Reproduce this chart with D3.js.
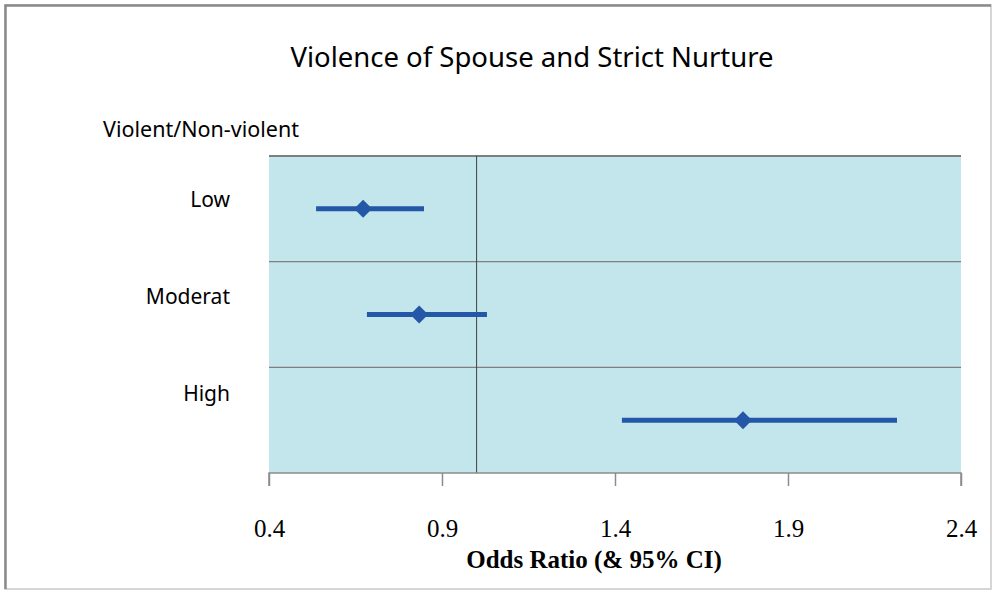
<!DOCTYPE html>
<html>
<head>
<meta charset="utf-8">
<script src="https://cdn.jsdelivr.net/npm/d3@7"></script>
<style>
  body { margin: 0; background: #fff; }
</style>
</head>
<body>
<div id="wrapper"></div>
<script>
// data
const categories = ["Low", "Moderat", "High"];
const oddsRatio = [0.672, 0.834, 1.770];
const ciLower = [0.536, 0.683, 1.420];
const ciUpper = [0.848, 1.030, 2.215];
const xTicks = [0.4, 0.9, 1.4, 1.9, 2.4];
const refValue = 1.0;

const width = 993;
const height = 592;
const plot = { left: 269, right: 961, top: 156, bottom: 473 };

const svg = d3.select("#wrapper")
    .append("svg")
    .attr("width", width)
    .attr("height", height);

// outer frame: darker on top/left, lighter on right/bottom
svg.append("rect")
    .attr("x", 5).attr("y", 5)
    .attr("width", 986).attr("height", 584)
    .attr("fill", "#fff")
    .attr("stroke", "#c8c8c8")
    .attr("stroke-width", 1.5);
svg.append("path")
    .attr("d", "M5.5,589V5.5H991")
    .attr("fill", "none")
    .attr("stroke", "#8a8a8a")
    .attr("stroke-width", 2.5);

const xScale = d3.scaleLinear()
    .domain([0.4, 2.4])
    .range([plot.left, plot.right]);

const yBand = d3.scaleBand()
    .domain(categories)
    .range([plot.top, plot.bottom]);

// labels sit a bit above the band centres in the original
const yLabel = d3.scalePoint()
    .domain(categories)
    .range([200, 394]);

// plot background
svg.append("rect")
    .attr("x", plot.left).attr("y", plot.top)
    .attr("width", plot.right - plot.left)
    .attr("height", plot.bottom - plot.top)
    .attr("fill", "#c3e5ec");

// band separators
svg.selectAll(".sep")
    .data(categories)
    .enter()
    .append("line")
    .attr("x1", plot.left).attr("x2", plot.right)
    .attr("y1", d => yBand(d)).attr("y2", d => yBand(d))
    .attr("stroke", "#7f7f7f")
    .attr("stroke-width", d => d === categories[0] ? 2 : 1.2);

// reference line at OR = 1
svg.append("line")
    .attr("x1", xScale(refValue)).attr("x2", xScale(refValue))
    .attr("y1", plot.top).attr("y2", plot.bottom)
    .attr("stroke", "#404040")
    .attr("stroke-width", 1);

// x axis
const xAxis = svg.append("g")
    .attr("transform", `translate(0,${plot.bottom})`)
    .call(d3.axisBottom(xScale).tickValues(xTicks).tickSize(13).tickPadding(33).tickFormat(d3.format(".1f")));
xAxis.selectAll("path, line").attr("stroke", "#8c8c8c").attr("stroke-width", 1.5);
xAxis.select(".domain").attr("d", `M${plot.left},13V0H${plot.right}V13`);
xAxis.selectAll("text")
    .attr("fill", "#000")
    .attr("font-family", "'Liberation Serif', 'Times New Roman', serif")
    .attr("font-size", "25px");

svg.append("text")
    .attr("x", 594)
    .attr("y", 568)
    .attr("text-anchor", "middle")
    .attr("font-family", "'Liberation Serif', 'Times New Roman', serif")
    .attr("font-weight", "bold")
    .attr("font-size", "25px")
    .text("Odds Ratio (& 95% CI)");

// title
svg.append("text")
    .attr("x", 532)
    .attr("y", 67)
    .attr("text-anchor", "middle")
    .attr("font-family", "'Noto Sans', sans-serif")
    .attr("font-size", "27.5px")
    .attr("fill", "#000")
    .text("Violence of Spouse and Strict Nurture");

svg.append("text")
    .attr("x", 103)
    .attr("y", 137)
    .attr("font-family", "'Noto Sans', sans-serif")
    .attr("font-size", "21.5px")
    .text("Violent/Non-violent");

// category labels
svg.selectAll(".cat")
    .data(categories)
    .enter()
    .append("text")
    .attr("x", 230)
    .attr("y", d => yLabel(d))
    .attr("dy", "0.35em")
    .attr("text-anchor", "end")
    .attr("font-family", "'Noto Sans', sans-serif")
    .attr("font-size", "21px")
    .text(d => d);

// CI bars
const rows = categories.map((c, i) => ({ cat: c, or: oddsRatio[i], lo: ciLower[i], hi: ciUpper[i] }));
const yMid = d => yBand(d.cat) + yBand.bandwidth() / 2;

svg.selectAll(".ci")
    .data(rows)
    .enter()
    .append("line")
    .attr("x1", d => xScale(d.lo)).attr("x2", d => xScale(d.hi))
    .attr("y1", yMid).attr("y2", yMid)
    .attr("stroke", "#2457a7")
    .attr("stroke-width", 5);

svg.selectAll(".pt")
    .data(rows)
    .enter()
    .append("path")
    .attr("transform", d => `translate(${xScale(d.or)},${yMid(d)})`)
    .attr("d", "M0,-9L9,0L0,9L-9,0Z")
    .attr("fill", "#2457a7");
</script>
</body>
</html>
